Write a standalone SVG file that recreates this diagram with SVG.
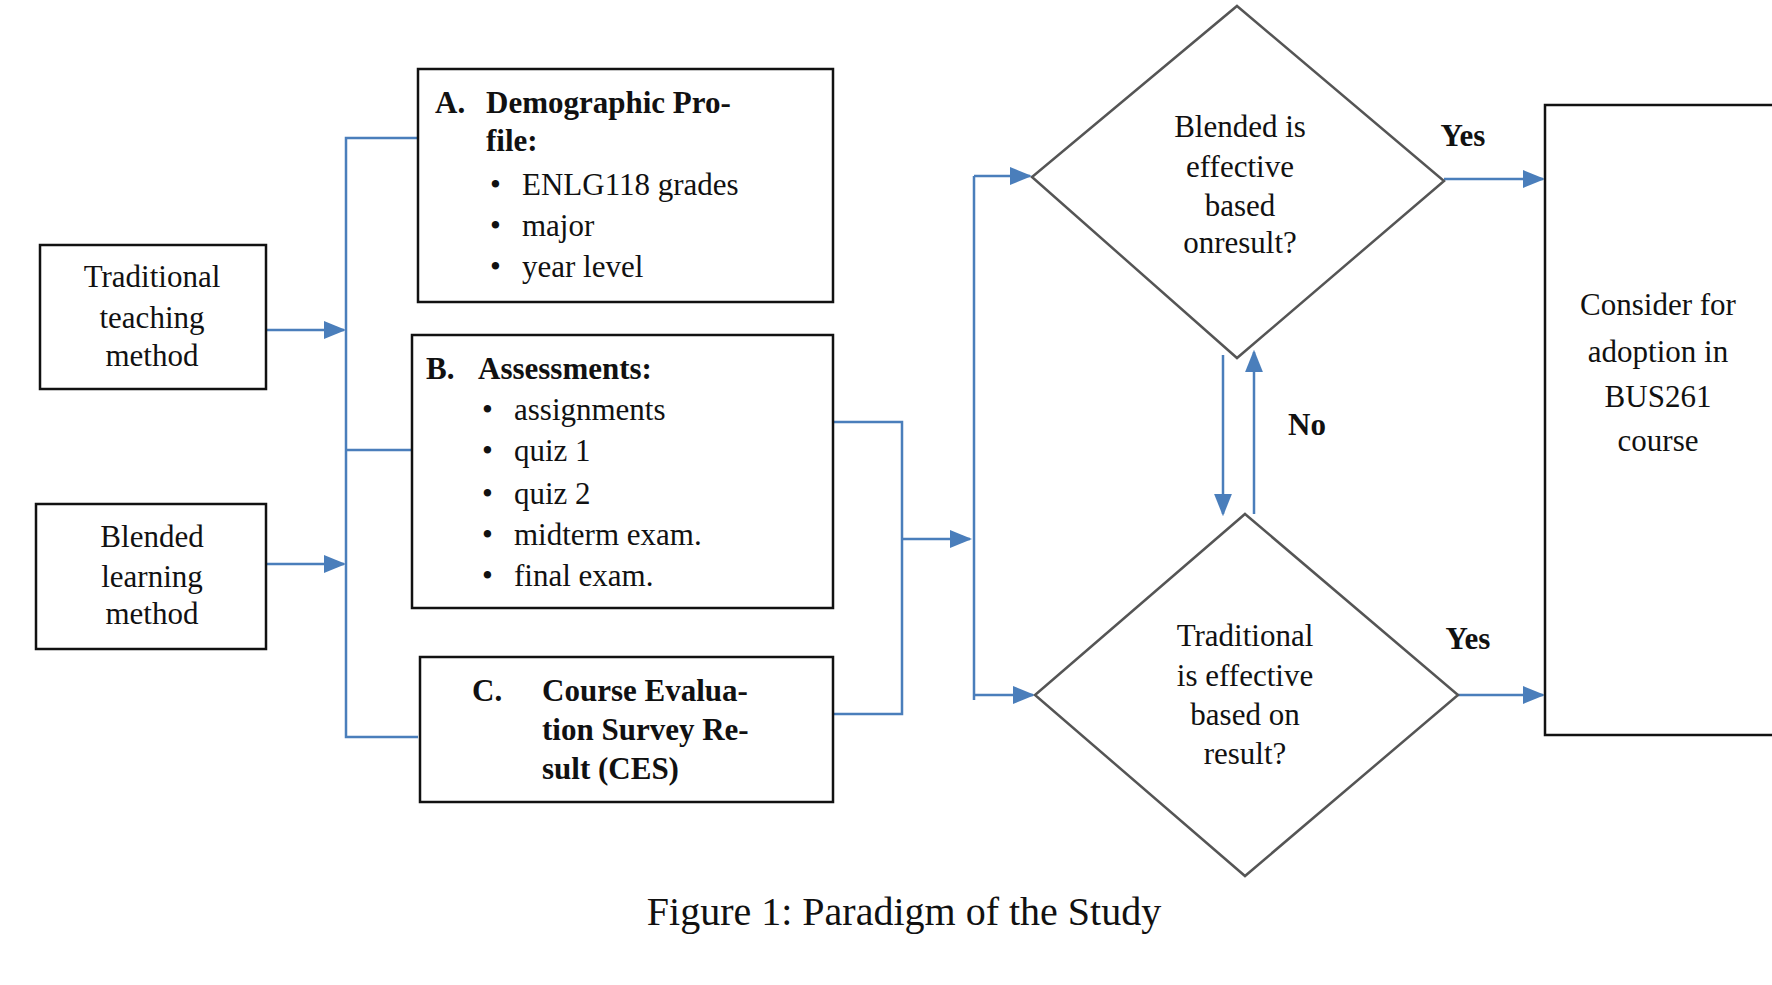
<svg xmlns="http://www.w3.org/2000/svg" width="1772" height="985" viewBox="0 0 1772 985">
<style>
text{font-family:"Liberation Serif","DejaVu Serif",serif;font-size:31px;fill:#111}
.b{font-weight:bold}
.m{text-anchor:middle}
.box{fill:#fff;stroke:#111;stroke-width:2.5}
.dia{fill:#fff;stroke:#555;stroke-width:2.5}
.c{fill:none;stroke:#4a7ebb;stroke-width:2.5}
</style>
<defs><marker id="ar" viewBox="0 0 10 10" refX="9" refY="5" markerWidth="8" markerHeight="8" markerUnits="userSpaceOnUse" orient="auto"><path d="M0,0 L10,5 L0,10 z" fill="#4a7ebb"/></marker>
<marker id="a" viewBox="0 0 10 10" refX="9" refY="5" markerWidth="9" markerHeight="9" orient="auto"><path d="M0,1 L10,5 L0,9 z" fill="#4a7ebb"/></marker></defs>
<g id="connectors">
<path class="c" d="M266,330 H344" marker-end="url(#a)"/>
<path class="c" d="M266,564 H344" marker-end="url(#a)"/>
<path class="c" d="M418,138 H346 V737 H418 M346,450 H412"/>
<path class="c" d="M833,422 H902 V714 H833"/>
<path class="c" d="M902,539 H970" marker-end="url(#a)"/>
<path class="c" d="M974,176 H1030" marker-end="url(#a)"/>
<path class="c" d="M974,176 V700"/>
<path class="c" d="M974,695 H1033" marker-end="url(#a)"/>
<path class="c" d="M1223,355 V514" marker-end="url(#a)"/>
<path class="c" d="M1254,514 V352" marker-end="url(#a)"/>
<path class="c" d="M1444,179 H1543" marker-end="url(#a)"/>
<path class="c" d="M1458,695 H1543" marker-end="url(#a)"/>
</g>
<g id="trad"><rect class="box" x="40" y="245" width="226" height="144"/><text class="m" x="152" y="287">Traditional</text><text class="m" x="152" y="328">teaching</text><text class="m" x="152" y="366">method</text></g>
<g id="blend"><rect class="box" x="36" y="504" width="230" height="145"/><text class="m" x="152" y="547">Blended</text><text class="m" x="152" y="587">learning</text><text class="m" x="152" y="624">method</text></g>
<g id="boxA"><rect class="box" x="418" y="69" width="415" height="233"/>
<text class="b" x="435" y="113">A.</text><text class="b" x="486" y="113">Demographic Pro-</text><text class="b" x="486" y="151">file:</text>
<text x="490" y="195">•</text><text x="522" y="195">ENLG118 grades</text>
<text x="490" y="236">•</text><text x="522" y="236">major</text>
<text x="490" y="277">•</text><text x="522" y="277">year level</text></g>
<g id="boxB"><rect class="box" x="412" y="335" width="421" height="273"/>
<text class="b" x="426" y="379">B.</text><text class="b" x="478" y="379">Assessments:</text>
<text x="482" y="420">•</text><text x="514" y="420">assignments</text>
<text x="482" y="461">•</text><text x="514" y="461">quiz 1</text>
<text x="482" y="504">•</text><text x="514" y="504">quiz 2</text>
<text x="482" y="545">•</text><text x="514" y="545">midterm exam.</text>
<text x="482" y="586">•</text><text x="514" y="586">final exam.</text></g>
<g id="boxC"><rect class="box" x="420" y="657" width="413" height="145"/>
<text class="b" x="472" y="701">C.</text><text class="b" x="542" y="701">Course Evalua-</text><text class="b" x="542" y="740">tion Survey Re-</text><text class="b" x="542" y="779">sult (CES)</text></g>
<g id="d1"><polygon class="dia" points="1237,6 1444,181 1237,358 1032,177"/>
<text class="m" x="1240" y="137">Blended is</text><text class="m" x="1240" y="177">effective</text><text class="m" x="1240" y="216">based</text><text class="m" x="1240" y="253">onresult?</text></g>
<g id="d2"><polygon class="dia" points="1245,514 1458,695 1245,876 1035,695"/>
<text class="m" x="1245" y="646">Traditional</text><text class="m" x="1245" y="686">is effective</text><text class="m" x="1245" y="725">based on</text><text class="m" x="1245" y="764">result?</text></g>
<g id="final"><rect class="box" x="1545" y="105" width="240" height="630"/>
<text class="m" x="1658" y="315">Consider for</text><text class="m" x="1658" y="362">adoption in</text><text class="m" x="1658" y="407">BUS261</text><text class="m" x="1658" y="451">course</text></g>
<g id="labels"><text class="b" x="1463" y="146" text-anchor="middle">Yes</text><text class="b" x="1468" y="649" text-anchor="middle">Yes</text><text class="b" x="1307" y="435" text-anchor="middle">No</text></g>
<text class="m" x="904" y="925" style="font-size:40px">Figure 1: Paradigm of the Study</text>
</svg>
